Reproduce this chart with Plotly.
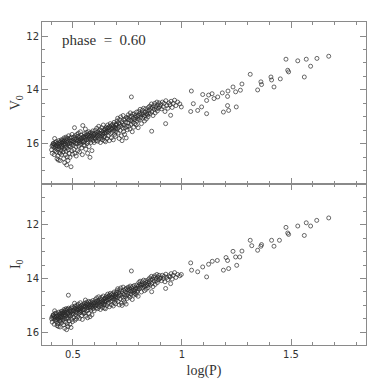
import plotly.graph_objects as go
from plotly.subplots import make_subplots

# log(P) of the dense part of the sample (same stars in both panels)
logp = [
    # 0.40-0.45
    0.402, 0.405, 0.408, 0.410, 0.412, 0.414, 0.415, 0.417, 0.418, 0.420,
    0.421, 0.423, 0.424, 0.425, 0.427, 0.428, 0.430, 0.431, 0.432, 0.434,
    0.435, 0.436, 0.438, 0.439, 0.440, 0.441, 0.443, 0.444, 0.445, 0.446,
    0.447, 0.448, 0.449, 0.450, 0.404, 0.409, 0.416, 0.426, 0.433, 0.442,
    # 0.45-0.50
    0.451, 0.452, 0.453, 0.455, 0.456, 0.457, 0.458, 0.459, 0.460, 0.461,
    0.462, 0.463, 0.464, 0.465, 0.466, 0.467, 0.468, 0.469, 0.470, 0.471,
    0.472, 0.473, 0.474, 0.475, 0.476, 0.477, 0.478, 0.479, 0.480, 0.482,
    0.483, 0.484, 0.485, 0.486, 0.487, 0.488, 0.490, 0.491, 0.492, 0.493,
    0.494, 0.495, 0.496, 0.498, 0.499,
    # 0.50-0.55
    0.500, 0.501, 0.503, 0.504, 0.505, 0.507, 0.508, 0.509, 0.510, 0.512,
    0.513, 0.514, 0.515, 0.517, 0.518, 0.519, 0.520, 0.522, 0.523, 0.524,
    0.525, 0.527, 0.528, 0.529, 0.530, 0.532, 0.533, 0.534, 0.535, 0.537,
    0.538, 0.539, 0.540, 0.542, 0.543, 0.544, 0.545, 0.547, 0.548, 0.549,
    # 0.55-0.60
    0.550, 0.551, 0.553, 0.554, 0.555, 0.557, 0.558, 0.559, 0.560, 0.562,
    0.563, 0.564, 0.565, 0.567, 0.568, 0.569, 0.570, 0.572, 0.573, 0.574,
    0.575, 0.577, 0.578, 0.579, 0.580, 0.582, 0.583, 0.584, 0.585, 0.587,
    0.588, 0.590, 0.591, 0.593, 0.594, 0.596, 0.597, 0.599,
    # 0.60-0.65
    0.600, 0.602, 0.603, 0.605, 0.606, 0.608, 0.609, 0.611, 0.612, 0.614,
    0.615, 0.617, 0.618, 0.620, 0.621, 0.623, 0.624, 0.626, 0.627, 0.629,
    0.630, 0.632, 0.633, 0.635, 0.636, 0.638, 0.639, 0.641, 0.642, 0.644,
    0.645, 0.646, 0.647, 0.648, 0.649,
    # 0.65-0.70
    0.650, 0.652, 0.653, 0.655, 0.656, 0.658, 0.659, 0.661, 0.662, 0.664,
    0.665, 0.667, 0.668, 0.670, 0.671, 0.673, 0.674, 0.676, 0.677, 0.679,
    0.680, 0.682, 0.683, 0.685, 0.686, 0.688, 0.689, 0.691, 0.692, 0.694,
    0.695, 0.696, 0.697, 0.698, 0.699,
    # 0.70-0.75
    0.700, 0.702, 0.704, 0.705, 0.707, 0.709, 0.710, 0.712, 0.714, 0.715,
    0.717, 0.719, 0.720, 0.722, 0.724, 0.725, 0.727, 0.729, 0.730, 0.732,
    0.734, 0.735, 0.737, 0.739, 0.740, 0.742, 0.744, 0.745, 0.747, 0.749,
    # 0.75-0.80
    0.750, 0.752, 0.754, 0.756, 0.757, 0.759, 0.761, 0.763, 0.765, 0.766,
    0.768, 0.770, 0.772, 0.774, 0.775, 0.777, 0.779, 0.781, 0.783, 0.784,
    0.786, 0.788, 0.790, 0.792, 0.794, 0.795, 0.797, 0.799,
    # 0.80-0.85
    0.800, 0.802, 0.804, 0.806, 0.808, 0.810, 0.812, 0.814, 0.816, 0.818,
    0.820, 0.822, 0.824, 0.826, 0.828, 0.830, 0.832, 0.834, 0.836, 0.838,
    0.840, 0.842, 0.844, 0.846, 0.848,
    # 0.85-0.90
    0.850, 0.852, 0.855, 0.857, 0.860, 0.862, 0.865, 0.867, 0.870, 0.872,
    0.875, 0.877, 0.880, 0.882, 0.885, 0.887, 0.890, 0.892, 0.895, 0.898,
    # 0.90-1.00
    0.902, 0.906, 0.910, 0.914, 0.918, 0.922, 0.926, 0.930, 0.935, 0.940,
    0.945, 0.950, 0.955, 0.960, 0.966, 0.972, 0.980, 0.990,
]

v0 = [
    16.22, 16.35, 16.05, 15.98, 16.12, 16.40, 16.02, 16.25, 15.95, 16.08,
    16.15, 15.92, 16.30, 16.05, 16.55, 15.98, 16.10, 16.45, 16.00, 16.18,
    15.88, 16.08, 16.32, 15.95, 16.02, 16.62, 16.12, 15.90, 16.25, 15.85,
    16.05, 16.40, 15.95, 16.15, 16.08, 16.00, 15.80, 16.20, 16.60, 16.35,
    15.95, 16.10, 15.85, 16.30, 15.92, 16.55, 16.02, 15.78, 16.20, 15.90,
    16.70, 15.98, 16.12, 15.82, 16.40, 16.05, 15.75, 16.28, 15.95, 16.78,
    15.88, 16.15, 16.48, 15.80, 16.00, 16.62, 15.92, 16.22, 15.70, 16.08,
    16.35, 15.85, 15.98, 16.50, 15.78, 16.10, 15.90, 16.85, 15.75, 16.02,
    16.25, 15.88, 15.65, 16.38, 15.95,
    15.88, 16.05, 15.75, 16.20, 15.92, 15.40, 15.82, 16.35, 15.70, 15.98,
    16.10, 15.78, 16.45, 15.85, 15.65, 16.00, 15.90, 16.25, 15.72, 15.82,
    15.60, 16.08, 15.88, 15.95, 16.30, 15.75, 15.85, 15.55, 16.02, 15.80,
    15.92, 15.68, 16.15, 15.78, 16.40, 15.88, 15.32, 15.95, 15.75, 16.05,
    15.72, 15.90, 15.62, 16.05, 15.80, 15.45, 15.75, 16.20, 15.68, 15.85,
    15.58, 15.98, 15.75, 16.35, 15.65, 15.82, 15.92, 15.55, 15.70, 16.10,
    15.78, 15.62, 16.50, 15.85, 15.72, 15.58, 15.95, 15.68, 15.80, 16.25,
    15.60, 15.75, 15.52, 15.88, 15.70, 15.65, 15.95, 15.78,
    15.62, 15.80, 15.50, 15.70, 15.88, 15.58, 15.42, 15.75, 15.65, 15.90,
    15.55, 15.68, 15.35, 15.82, 15.60, 15.72, 15.48, 15.95, 15.62, 15.78,
    15.52, 15.40, 15.70, 15.85, 15.58, 15.65, 15.30, 15.75, 15.50, 15.88,
    15.60, 15.45, 15.72, 15.55, 15.92,
    15.45, 15.60, 15.38, 15.52, 15.80, 15.42, 15.30, 15.55, 15.70, 15.40,
    15.48, 15.88, 15.35, 15.50, 15.25, 15.62, 15.42, 15.78, 15.32, 15.45,
    15.58, 15.28, 15.40, 15.85, 15.35, 15.50, 15.20, 15.65, 15.38, 15.45,
    15.72, 15.30, 15.42, 15.55, 15.25,
    15.30, 15.15, 15.45, 15.05, 15.60, 15.22, 15.38, 15.80, 15.10, 15.28,
    15.50, 15.00, 15.35, 15.70, 15.18, 15.88, 15.25, 15.42, 14.95, 15.55,
    15.12, 15.30, 15.65, 15.08, 15.40, 15.20, 15.78, 15.02, 15.35, 15.48,
    15.05, 15.22, 14.92, 15.35, 15.10, 15.00, 15.45, 14.85, 15.15, 15.28,
    14.98, 15.12, 15.55, 14.90, 15.20, 15.05, 15.38, 14.88, 15.10, 15.25,
    14.95, 15.02, 15.30, 14.82, 15.15, 14.98, 15.08, 15.40,
    14.95, 14.80, 15.10, 14.88, 14.72, 15.02, 14.92, 15.25, 14.85, 14.75,
    15.05, 14.90, 14.68, 14.98, 15.15, 14.82, 14.95, 14.70, 15.08, 14.88,
    14.78, 14.92, 15.00, 14.65, 14.85,
    14.75, 14.60, 14.88, 14.68, 14.52, 14.80, 14.65, 14.95, 14.58, 14.72,
    14.50, 14.85, 14.62, 14.70, 14.45, 14.78, 14.55, 14.68, 14.48, 14.62,
    14.55, 14.70, 14.45, 14.62, 14.50, 14.80, 14.40, 14.58, 14.68, 14.48,
    14.55, 14.42, 14.65, 14.50, 14.38, 14.58, 14.45, 14.52,
]

i0 = [
    15.50, 15.62, 15.40, 15.35, 15.48, 15.70, 15.42, 15.55, 15.30, 15.45,
    15.52, 15.28, 15.60, 15.40, 15.75, 15.35, 15.45, 15.68, 15.38, 15.50,
    15.25, 15.42, 15.58, 15.32, 15.40, 15.80, 15.45, 15.28, 15.55, 15.22,
    15.38, 15.65, 15.30, 15.48, 15.44, 15.36, 15.20, 15.52, 15.78, 15.60,
    15.30, 15.42, 15.22, 15.55, 15.28, 15.72, 15.35, 15.15, 15.48, 15.25,
    15.85, 15.32, 15.40, 15.18, 15.62, 15.36, 15.12, 15.50, 15.28, 15.90,
    15.20, 15.45, 15.68, 15.14, 15.30, 15.78, 15.26, 15.48, 15.10, 15.38,
    15.58, 15.20, 15.32, 15.70, 15.15, 15.40, 15.24, 15.82, 15.10, 15.34,
    15.52, 15.22, 15.05, 15.60, 15.28,
    15.18, 15.32, 15.08, 15.45, 15.20, 14.92, 15.12, 15.55, 15.02, 15.25,
    15.35, 15.10, 15.50, 15.15, 15.00, 15.28, 15.18, 15.42, 15.05, 15.12,
    14.95, 15.30, 15.15, 15.22, 15.48, 15.06, 15.14, 14.90, 15.26, 15.10,
    15.20, 15.00, 15.38, 15.08, 15.52, 15.16, 14.96, 15.24, 15.04, 15.30,
    15.00, 15.15, 14.92, 15.28, 15.05, 14.80, 15.02, 15.40, 14.96, 15.10,
    14.88, 15.20, 15.02, 15.46, 14.94, 15.08, 15.16, 14.85, 14.98, 15.30,
    15.05, 14.90, 15.42, 15.10, 15.00, 14.86, 15.18, 14.96, 15.06, 15.35,
    14.90, 15.02, 14.82, 15.12, 14.98, 14.92, 15.20, 15.04,
    14.88, 15.02, 14.78, 14.95, 15.10, 14.85, 14.72, 15.00, 14.90, 15.12,
    14.82, 14.92, 14.68, 15.05, 14.86, 14.96, 14.75, 15.15, 14.88, 15.00,
    14.80, 14.70, 14.94, 15.08, 14.84, 14.90, 14.65, 14.98, 14.78, 15.10,
    14.86, 14.74, 14.95, 14.82, 15.12,
    14.72, 14.85, 14.65, 14.78, 15.00, 14.70, 14.58, 14.80, 14.92, 14.66,
    14.74, 15.05, 14.62, 14.76, 14.55, 14.86, 14.70, 14.98, 14.60, 14.72,
    14.82, 14.56, 14.68, 15.02, 14.62, 14.76, 14.50, 14.88, 14.64, 14.70,
    14.94, 14.58, 14.68, 14.80, 14.52,
    14.60, 14.45, 14.72, 14.38, 14.85, 14.52, 14.65, 14.98, 14.42, 14.58,
    14.75, 14.35, 14.62, 14.92, 14.48, 15.00, 14.55, 14.70, 14.32, 14.80,
    14.45, 14.60, 14.88, 14.40, 14.68, 14.50, 14.95, 14.36, 14.62, 14.74,
    14.42, 14.55, 14.32, 14.65, 14.45, 14.38, 14.70, 14.28, 14.48, 14.58,
    14.35, 14.45, 14.78, 14.30, 14.52, 14.42, 14.62, 14.26, 14.46, 14.56,
    14.34, 14.40, 14.60, 14.24, 14.50, 14.36, 14.44, 14.66,
    14.28, 14.15, 14.38, 14.22, 14.10, 14.32, 14.25, 14.50, 14.20, 14.12,
    14.35, 14.24, 14.06, 14.30, 14.45, 14.18, 14.28, 14.08, 14.40, 14.22,
    14.14, 14.26, 14.34, 14.04, 14.20,
    14.12, 13.98, 14.24, 14.05, 13.92, 14.18, 14.02, 14.30, 13.95, 14.10,
    13.90, 14.22, 14.00, 14.08, 13.85, 14.15, 13.94, 14.05, 13.88, 14.00,
    13.98, 14.08, 13.88, 14.00, 13.92, 14.12, 13.84, 13.96, 14.04, 13.90,
    13.94, 13.82, 14.02, 13.88, 13.78, 13.96, 13.85, 13.90,
]

# sparse long-period stars and outliers, read one by one
logp_v_sparse = [
    1.673, 1.619, 1.570, 1.531, 1.477, 1.590, 1.485, 1.489, 1.561, 1.313,
    1.408, 1.411, 1.451, 1.362, 1.365, 1.422, 1.347, 1.275, 1.234, 1.246,
    1.268, 1.211, 1.209, 1.164, 1.185, 1.122, 1.138, 1.147, 1.095, 1.043,
    1.113, 1.090, 1.052, 1.249, 1.209, 1.214, 1.190, 1.113, 1.040, 1.072,
    0.997, 0.948, 0.925, 0.861, 0.768,
]
v0_sparse = [
    12.75, 12.83, 12.86, 12.92, 12.86, 13.12, 13.27, 13.33, 13.52, 13.42,
    13.52, 13.63, 13.59, 13.70, 13.80, 13.89, 14.00, 13.78, 13.89, 14.07,
    14.01, 14.04, 14.24, 14.26, 14.11, 14.19, 14.14, 14.32, 14.17, 14.04,
    14.39, 14.63, 14.51, 14.63, 14.58, 14.76, 14.82, 14.88, 14.80, 14.76,
    14.63, 14.94, 15.25, 15.53, 14.26,
]
logp_i_sparse = [
    1.673, 1.618, 1.570, 1.590, 1.531, 1.561, 1.477, 1.485, 1.489, 1.447,
    1.411, 1.422, 1.313, 1.362, 1.365, 1.347, 1.320, 1.275, 1.234, 1.246,
    1.265, 1.251, 1.209, 1.202, 1.214, 1.190, 1.162, 1.139, 1.122, 1.113,
    1.095, 1.040, 1.044, 1.072, 0.997, 0.948, 0.925, 0.861, 0.768, 0.479,
]
i0_sparse = [
    11.75, 11.84, 11.93, 12.05, 12.05, 12.40, 12.10, 12.31, 12.36, 12.58,
    12.58, 12.80, 12.58, 12.80, 12.74, 12.95, 12.78, 12.98, 12.99, 13.20,
    13.20, 13.51, 13.33, 13.22, 13.63, 13.69, 13.33, 13.36, 13.47, 13.94,
    13.57, 13.42, 13.69, 13.75, 13.85, 14.19, 14.37, 14.49, 13.72, 14.62,
]

frame_color = '#8a8a8a'
text_color = '#333333'
marker_style = dict(symbol='circle-open', size=4, color='#2a2a2a', line=dict(width=0.7))

fig = make_subplots(rows=2, cols=1, shared_xaxes=True, vertical_spacing=0)

fig.add_trace(go.Scatter(x=logp + logp_v_sparse, y=v0 + v0_sparse, mode='markers',
                         marker=marker_style, showlegend=False), row=1, col=1)
fig.add_trace(go.Scatter(x=logp + logp_i_sparse, y=i0 + i0_sparse, mode='markers',
                         marker=marker_style, showlegend=False), row=2, col=1)

axis_common = dict(
    showline=True, linecolor=frame_color, linewidth=1, mirror='allticks',
    ticks='inside', ticklen=6, tickcolor=frame_color, tickwidth=1,
    showgrid=False, zeroline=False, automargin=False,
    tickfont=dict(family='DejaVu Sans', size=10, color=text_color),
)

fig.update_xaxes(range=[0.358, 1.844], dtick=0.5, tick0=0,
                 minor=dict(ticks='inside', ticklen=3, dtick=0.1, tickcolor=frame_color, showgrid=False),
                 **axis_common)
fig.update_xaxes(title=dict(text='log(P)', font=dict(family='Liberation Serif', size=14, color=text_color),
                            standoff=6), row=2, col=1)

fig.update_yaxes(dtick=2, tick0=0,
                 minor=dict(ticks='inside', ticklen=3, dtick=0.5, tickcolor=frame_color, showgrid=False),
                 **axis_common)
fig.update_yaxes(range=[17.47, 11.48], row=1, col=1,
                 title=dict(text='V<sub>0</sub>', font=dict(family='Liberation Serif', size=14, color=text_color),
                            standoff=8))
fig.update_yaxes(range=[16.47, 10.47], row=2, col=1,
                 title=dict(text='I<sub>0</sub>', font=dict(family='Liberation Serif', size=14, color=text_color),
                            standoff=8))

fig.add_annotation(text='phase  =  0.60', xref='paper', yref='paper', x=0.055, y=0.945,
                   xanchor='left', yanchor='middle', showarrow=False,
                   font=dict(family='Liberation Serif', size=15, color=text_color))

# the page body adds an 8px offset, so the figure itself is 8px smaller
fig.update_layout(
    width=379, height=379,
    margin=dict(l=34, r=21, t=14, b=42),
    paper_bgcolor='white', plot_bgcolor='white',
)

fig.write_html("out.html")
